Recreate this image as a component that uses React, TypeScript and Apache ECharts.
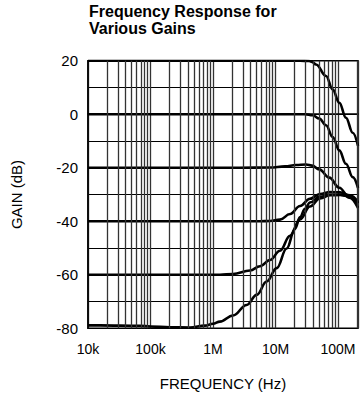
import React, { useEffect, useRef } from 'react';
import * as echarts from 'echarts';

const TITLE = 'Frequency Response for\nVarious Gains';
const X_NAME = 'FREQUENCY (Hz)';
const Y_NAME = 'GAIN (dB)';

const X_MIN = 1e4;
const X_MAX = 2.09e8;
const X_TICK_VALUES = [1e4, 1e5, 1e6, 1e7, 1e8];
const X_TICK_LABELS = ['10k', '100k', '1M', '10M', '100M'];
const MINOR_MULTIPLIERS = [2, 3, 4, 5, 6, 7, 8, 9];

const Y_MIN = -80;
const Y_MAX = 20;
const Y_INTERVAL = 20;

const FREQ_G20 = [1e4, 1e5, 1e6, 1e7, 2.47e7, 3.44e7, 3.84e7, 4.45e7, 6.43e7, 8.22e7, 1.05e8, 1.34e8, 1.72e8, 2.09e8];
const GAIN_G20 = [20, 20, 20, 20, 20, 19.9, 19.5, 18.6, 14.3, 9.3, 4.3, -1.3, -6.9, -11.8];

const FREQ_G0 = [1e4, 1e5, 1e6, 1e7, 2.95e7, 3.94e7, 5.02e7, 6.43e7, 8.22e7, 1.05e8, 1.34e8, 1.72e8, 2.09e8];
const GAIN_G0 = [0, 0, 0, 0, 0, -0.4, -1.6, -4.1, -8.5, -13.5, -18.5, -23.5, -27.5];

const FREQ_GM20 = [1e4, 1e5, 1e6, 2.7e6, 8.17e6, 1.42e7, 2.13e7, 3.08e7, 3.84e7, 5.02e7, 7.26e7, 1.05e8, 1.52e8, 2.09e8];
const GAIN_GM20 = [-20, -20, -20, -20, -19.9, -19.5, -19.0, -18.8, -19.2, -20.6, -23.7, -27.5, -31.2, -35];

const FREQ_GM40 = [1e4, 1e5, 1e6, 5.65e6, 8.17e6, 1.18e7, 1.71e7, 2.47e7, 3.56e7, 5.15e7, 7.45e7, 1.08e8, 1.56e8, 2.09e8];
const GAIN_GM40 = [-40, -40, -40, -40, -39.9, -39.4, -37.3, -34.3, -31.6, -29.8, -29.1, -29.2, -30.3, -32.8];

const FREQ_GM60 = [1e4, 1e5, 1e6, 1.29e6, 2.09e6, 3.91e6, 5.65e6, 8.17e6, 1.18e7, 1.71e7, 2.47e7, 3.56e7, 5.15e7, 7.45e7, 1.08e8, 1.56e8, 2.09e8];
const GAIN_GM60 = [-60, -60, -60, -60, -59.7, -58.4, -56.8, -54.5, -51.0, -45.4, -39.3, -34.5, -31.5, -30.3, -30.2, -30.8, -33.3];

const FREQ_GM80 = [1e4, 1.56e4, 6.8e4, 1e5, 2.05e5, 4.28e5, 7.45e5, 1e6, 1.29e6, 2.09e6, 3.46e6, 5.0e6, 7.23e6, 1.045e7, 1.51e7, 2.05e7, 2.47e7, 2.97e7, 3.56e7, 5.15e7, 7.45e7, 1.08e8, 1.56e8, 2.09e8];
const GAIN_GM80 = [-78.9, -78.9, -79.1, -79.3, -79.6, -79.7, -79.0, -78.3, -77.5, -75.2, -71.3, -67.5, -62.5, -57.5, -50.2, -42.8, -38.4, -35.3, -33.0, -30.8, -30.1, -30.1, -30.7, -33.2];

const CURVES = [
  { name: '+20 dB', freq: FREQ_G20, gain: GAIN_G20 },
  { name: '0 dB', freq: FREQ_G0, gain: GAIN_G0 },
  { name: '-20 dB', freq: FREQ_GM20, gain: GAIN_GM20 },
  { name: '-40 dB', freq: FREQ_GM40, gain: GAIN_GM40 },
  { name: '-60 dB', freq: FREQ_GM60, gain: GAIN_GM60 },
  { name: '-80 dB', freq: FREQ_GM80, gain: GAIN_GM80 },
];

const FONT = "'Liberation Sans', Arial, Helvetica, sans-serif";

export default function App() {
  const ref = useRef<HTMLDivElement>(null);

  useEffect(() => {
    document.body.style.margin = '0';
    if (!ref.current) return;
    const chart = echarts.init(ref.current, undefined, { renderer: 'svg' });

    const minorFreqs: number[] = [];
    X_TICK_VALUES.forEach((d) => {
      MINOR_MULTIPLIERS.forEach((m) => {
        const f = d * m;
        if (f < X_MAX) minorFreqs.push(f);
      });
    });

    const xLabel = (v: number) => {
      const i = X_TICK_VALUES.findIndex((t) => Math.abs(Math.log10(t) - Math.log10(v)) < 1e-6);
      return i >= 0 ? X_TICK_LABELS[i] : '';
    };

    const option: any = {
      animation: false,
      title: {
        text: TITLE,
        left: 89,
        top: 3,
        padding: 0,
        textStyle: { fontFamily: FONT, fontSize: 16, fontWeight: 'bold', lineHeight: 17, color: '#000' },
      },
      grid: {
        left: 88,
        right: 2,
        top: 60.7,
        bottom: 68.7,
        show: true,
        borderColor: '#000',
        borderWidth: 1.5,
        containLabel: false,
        outerBoundsMode: 'none',
      },
      xAxis: {
        type: 'log',
        logBase: 10,
        min: X_MIN,
        max: X_MAX,
        name: X_NAME,
        nameLocation: 'middle',
        nameGap: 48,
        nameTextStyle: { fontFamily: FONT, fontSize: 15, color: '#000' },
        axisLine: { show: true, lineStyle: { color: '#000', width: 1.5 } },
        axisTick: { show: false },
        axisLabel: {
          fontFamily: FONT,
          fontSize: 14,
          color: '#000',
          margin: 14,
          showMaxLabel: false,
          formatter: xLabel,
        },
        splitLine: { show: true, lineStyle: { color: '#333', width: 1.3 } },
      },
      yAxis: {
        type: 'value',
        min: Y_MIN,
        max: Y_MAX,
        interval: Y_INTERVAL,
        name: Y_NAME,
        nameLocation: 'middle',
        nameGap: 64,
        nameTextStyle: { fontFamily: FONT, fontSize: 15, color: '#000' },
        axisLine: { show: true, lineStyle: { color: '#000', width: 1.5 } },
        axisTick: { show: false },
        axisLabel: { fontFamily: FONT, fontSize: 15, color: '#000', margin: 10 },
        splitLine: { show: true, lineStyle: { color: '#000', width: 1.2 } },
        minorTick: { show: false, splitNumber: 2 },
        minorSplitLine: { show: true, lineStyle: { color: '#000', width: 1.2 } },
      },
      series: [
        {
          type: 'line',
          name: 'grid',
          data: [[X_MIN, Y_MIN]],
          symbol: 'none',
          lineStyle: { width: 0, opacity: 0 },
          z: 1,
          silent: true,
          markLine: {
            silent: true,
            symbol: ['none', 'none'],
            label: { show: false },
            lineStyle: { color: '#333', width: 1.3, type: 'solid' },
            emphasis: { disabled: true },
            data: minorFreqs.map((f) => ({ xAxis: f })),
          },
        },
        ...CURVES.map((c) => ({
          type: 'line',
          name: c.name,
          data: c.freq.map((f, i) => [f, c.gain[i]]),
          symbol: 'none',
          smooth: 0.4,
          smoothMonotone: 'x',
          z: 3,
          lineStyle: { color: '#000', width: 2.6 },
          silent: true,
        })),
      ],
    };

    chart.setOption(option);
    return () => chart.dispose();
  }, []);

  return <div ref={ref} style={{ width: 360, height: 397 }} />;
}
